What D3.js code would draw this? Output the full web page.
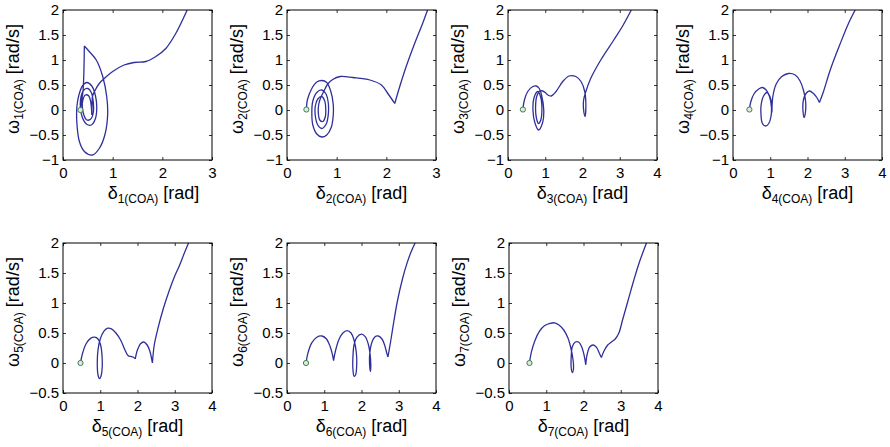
<!DOCTYPE html>
<html>
<head>
<meta charset="utf-8">
<script src="https://cdn.jsdelivr.net/npm/d3@7"></script>
<style>
  body { margin: 0; background: #fff; }
  text { font-family: "Liberation Sans", Arial, Helvetica, sans-serif; fill: #000; }
</style>
</head>
<body>
<svg id="chart" width="890" height="447"></svg>
<script>
// trajectories in (delta, omega); each one is a list of smooth pieces, pieces meet at cusps
var traj1 = [
  [[0.35,0.0],[0.37,0.15],[0.40,0.35],[0.415,0.6],[0.425,0.95],[0.43,1.28]],
  [[0.43,1.28],[0.52,1.18],[0.67,1.0],[0.8,0.67],[0.88,0.27],[0.9,-0.07],[0.85,-0.47],[0.73,-0.77],[0.59,-0.9],
   [0.43,-0.83],[0.33,-0.63],[0.28,-0.27],[0.28,0.07],[0.32,0.3],[0.39,0.48],
   [0.48,0.55],[0.58,0.48],[0.65,0.3],[0.68,0.05],[0.65,-0.18],[0.57,-0.3],[0.47,-0.28],[0.39,-0.15],[0.35,0.05],[0.36,0.25],
   [0.42,0.4],[0.5,0.43],[0.57,0.35],[0.61,0.15],[0.61,-0.05],[0.56,-0.18],[0.48,-0.2],[0.42,-0.1],[0.39,0.05],[0.40,0.2],
   [0.45,0.3],[0.52,0.28],[0.56,0.15],[0.575,0.0],[0.58,-0.1]],
  [[0.58,-0.1],[0.585,0.1],[0.595,0.28],[0.65,0.4],[0.73,0.53],[0.83,0.63],[1.0,0.77],[1.23,0.9],[1.43,0.95],
   [1.67,0.97],[1.87,1.07],[2.07,1.23],[2.27,1.53],[2.5,2.0]]
];
var traj2 = [
  [[0.39,0.01],[0.41,0.2],[0.5,0.43],[0.6,0.56],[0.7,0.59],[0.8,0.55],[0.88,0.38],[0.93,0.12],[0.93,-0.12],[0.89,-0.35],
   [0.8,-0.5],[0.7,-0.54],[0.6,-0.48],[0.52,-0.3],[0.5,-0.05],[0.52,0.18],[0.6,0.35],[0.7,0.4],[0.78,0.33],[0.83,0.15],
   [0.83,-0.1],[0.79,-0.28],[0.7,-0.37],[0.62,-0.3],[0.57,-0.12],[0.57,0.08],[0.62,0.22],[0.7,0.27],[0.76,0.18],[0.78,0.02],
   [0.77,-0.14],[0.72,-0.23],[0.66,-0.2],[0.63,-0.05],[0.64,0.12],[0.68,0.25],[0.74,0.37],[0.82,0.52],[0.92,0.61],
   [1.07,0.67],[1.33,0.65],[1.67,0.6],[1.9,0.5],[2.03,0.33],[2.17,0.13]],
  [[2.17,0.13],[2.27,0.47],[2.4,0.87],[2.57,1.33],[2.73,1.73],[2.83,2.0]]
];
var traj3 = [
  [[0.4,0.01],[0.44,0.2],[0.53,0.37],[0.67,0.47],[0.76,0.48],[0.84,0.43],[0.9,0.3],[0.96,0.0],[0.93,-0.25],[0.82,-0.4],
   [0.72,-0.25],[0.67,0.0],[0.7,0.25],[0.8,0.37],[0.88,0.25],[0.91,0.0],[0.88,-0.2],[0.82,-0.27],[0.76,-0.15],[0.74,0.05],
   [0.77,0.27],[0.85,0.38],[0.93,0.38],[1.0,0.35],[1.07,0.3],[1.16,0.28],[1.29,0.37],[1.47,0.57],[1.64,0.68],[1.82,0.67],
   [1.96,0.57],[2.06,0.37],[2.09,0.13],[2.07,-0.13],[2.03,0.0],[2.03,0.2],[2.09,0.37],[2.22,0.63],[2.49,1.0],[2.84,1.4],
   [3.07,1.67],[3.31,2.0]]
];
var traj4 = [
  [[0.44,0.01],[0.48,0.17],[0.57,0.33],[0.69,0.42],[0.79,0.45],[0.89,0.4],[0.98,0.27],[1.03,0.07],[1.02,-0.13],[0.96,-0.27],
   [0.88,-0.32],[0.79,-0.27],[0.75,-0.07],[0.76,0.13],[0.82,0.28],[0.91,0.35],[1.0,0.25],[1.04,0.1],[1.045,-0.05]],
  [[1.045,-0.05],[1.07,0.27],[1.16,0.52],[1.31,0.67],[1.49,0.73],[1.67,0.7],[1.8,0.58],[1.89,0.4],[1.95,0.17],[1.94,-0.07],
   [1.91,-0.15],[1.88,-0.03],[1.89,0.2],[1.96,0.33],[2.05,0.38],[2.16,0.33],[2.25,0.25],[2.32,0.15]],
  [[2.32,0.15],[2.43,0.37],[2.61,0.8],[2.88,1.33],[3.1,1.73],[3.28,2.0]]
];
var traj5 = [
  [[0.47,0.0],[0.52,0.15],[0.62,0.32],[0.74,0.41],[0.85,0.43],[0.94,0.4],[1.01,0.3],[1.05,0.1],[1.05,-0.1],[1.02,-0.22],
   [0.98,-0.26],[0.94,-0.2],[0.92,0.0],[0.94,0.22],[1.0,0.4],[1.1,0.53],[1.2,0.58],[1.3,0.57],[1.42,0.5],[1.55,0.38],
   [1.66,0.22],[1.75,0.12],[1.82,0.11],[1.88,0.1],[1.94,0.07]],
  [[1.94,0.07],[2.0,0.22],[2.08,0.32],[2.17,0.35],[2.26,0.3],[2.33,0.2],[2.37,0.1],[2.4,0.0]],
  [[2.4,0.0],[2.45,0.3],[2.55,0.58],[2.7,0.92],[2.86,1.22],[3.0,1.45],[3.13,1.63],[3.25,1.82],[3.37,2.0]]
];
var traj6 = [
  [[0.51,0.0],[0.56,0.16],[0.66,0.33],[0.8,0.43],[0.94,0.45],[1.06,0.4],[1.16,0.27],[1.22,0.14],[1.25,0.04]],
  [[1.25,0.04],[1.3,0.2],[1.4,0.4],[1.5,0.5],[1.61,0.54],[1.72,0.5],[1.8,0.38],[1.86,0.18],[1.87,-0.05],[1.84,-0.2],
   [1.8,-0.22],[1.77,-0.1],[1.77,0.1],[1.8,0.3],[1.88,0.43],[2.0,0.48],[2.1,0.44],[2.18,0.32],[2.23,0.15],[2.25,-0.05],
   [2.24,-0.14],[2.22,-0.05],[2.22,0.15],[2.27,0.33],[2.35,0.43],[2.45,0.45],[2.55,0.4],[2.63,0.28],[2.68,0.16],[2.71,0.1]],
  [[2.71,0.1],[2.78,0.35],[2.87,0.7],[2.97,1.05],[3.1,1.4],[3.22,1.66],[3.33,1.85],[3.44,2.0]]
];
var traj7 = [
  [[0.55,0.0],[0.6,0.18],[0.7,0.38],[0.82,0.53],[0.95,0.62],[1.1,0.66],[1.22,0.67],[1.35,0.63],[1.47,0.55],[1.58,0.42],
   [1.66,0.25],[1.72,0.05],[1.73,-0.1],[1.7,-0.16],[1.67,-0.08],[1.67,0.1],[1.7,0.27],[1.78,0.35],[1.87,0.35],[1.95,0.27],
   [2.02,0.12],[2.06,-0.03]],
  [[2.06,-0.03],[2.1,0.15],[2.17,0.27],[2.26,0.3],[2.35,0.26],[2.42,0.17],[2.48,0.09]],
  [[2.48,0.09],[2.55,0.2],[2.65,0.3],[2.75,0.35],[2.85,0.4],[2.95,0.5],[3.05,0.72],[3.2,1.05],[3.35,1.38],[3.5,1.68],[3.69,2.0]]
];

var trajs = [traj1, traj2, traj3, traj4, traj5, traj6, traj7];
var xMax = [3, 3, 4, 4, 4, 4, 4];
var yMin = [-1, -1, -1, -1, -0.5, -0.5, -0.5];
var xTicks3 = [0, 1, 2, 3];
var xTicks4 = [0, 1, 2, 3, 4];
var yTicksTop = [-1, -0.5, 0, 0.5, 1, 1.5, 2];
var yTicksBottom = [-0.5, 0, 0.5, 1, 1.5, 2];

// layout
var lefts = [63, 287, 508, 733, 63, 287, 509];
var tops = [10, 10, 10, 10, 243, 243, 243];
var xLabelShift = [16, 0, 0, 0, 0, 0, 0];
var W = 149, H = 150;
var lineColor = '#2f2f9c';

var svg = d3.select('#chart');
svg.append('rect').attr('width', 890).attr('height', 447).attr('fill', '#fff');

function fmt(v) {
  var s = String(v);
  return v < 0 ? '\u2212' + s.slice(1) : s;
}

trajs.forEach(function(traj, i) {
  var g = svg.append('g').attr('transform', 'translate(' + lefts[i] + ',' + tops[i] + ')');
  var x = d3.scaleLinear().domain([0, xMax[i]]).range([0, W]);
  var y = d3.scaleLinear().domain([yMin[i], 2]).range([H, 0]);
  var xt = xMax[i] === 3 ? xTicks3 : xTicks4;
  var yt = yMin[i] === -1 ? yTicksTop : yTicksBottom;

  g.append('clipPath').attr('id', 'clip' + i)
    .append('rect').attr('width', W).attr('height', H);

  // axes with inward ticks on all sides
  var ax = [
    [d3.axisBottom(x).tickValues(xt).tickFormat(fmt), 'translate(0,' + H + ')'],
    [d3.axisTop(x).tickValues(xt).tickFormat(''), null],
    [d3.axisLeft(y).tickValues(yt).tickFormat(fmt), null],
    [d3.axisRight(y).tickValues(yt).tickFormat(''), 'translate(' + W + ',0)']
  ];
  ax.forEach(function(a, k) {
    var ag = g.append('g').call(a[0].tickSizeInner(-3).tickSizeOuter(0).tickPadding(k === 0 ? 7 : 4));
    if (a[1]) ag.attr('transform', a[1]);
    ag.select('.domain').remove();
    ag.selectAll('line').attr('stroke', '#000').attr('stroke-width', 0.8);
    ag.selectAll('text').style('font-size', '15px')
      .style('font-family', '"Liberation Sans", Arial, Helvetica, sans-serif').attr('fill', '#000');
  });

  var line = d3.line()
    .x(function(d) { return x(d[0]); })
    .y(function(d) { return y(d[1]); })
    .curve(d3.curveCatmullRom.alpha(0.5));
  var dStr = traj.map(function(seg) { return line(seg); }).join('');
  g.append('path').attr('d', dStr).attr('fill', 'none')
    .attr('stroke', lineColor).attr('stroke-width', 1.3)
    .attr('stroke-linejoin', 'round')
    .attr('clip-path', 'url(#clip' + i + ')');

  var s = traj[0][0];
  g.append('circle').attr('cx', x(s[0])).attr('cy', y(s[1])).attr('r', 2.6)
    .attr('fill', '#dfeadf').attr('stroke', '#3d8050').attr('stroke-width', 1);

  g.append('rect').attr('width', W).attr('height', H)
    .attr('fill', 'none').attr('stroke', '#000').attr('stroke-width', 1);

  var n = i + 1;
  // x label
  var xl = g.append('text').attr('x', W / 2 + xLabelShift[i]).attr('y', H + 39)
    .attr('text-anchor', 'middle').style('font-size', '18px');
  xl.append('tspan').text('\u03b4');
  xl.append('tspan').attr('dy', 4).style('font-size', '12px').text(n + '(COA)');
  xl.append('tspan').attr('dy', -4).text(' [rad]');

  // y label
  var yl = g.append('text')
    .attr('transform', 'translate(-44,' + (H / 2 - 6) + ') rotate(-90)')
    .attr('text-anchor', 'middle').style('font-size', '18px');
  yl.append('tspan').text('\u03c9');
  yl.append('tspan').attr('dy', 4).style('font-size', '12px').text(n + '(COA)');
  yl.append('tspan').attr('dy', -4).text(' [rad/s]');
});
</script>
</body>
</html>
